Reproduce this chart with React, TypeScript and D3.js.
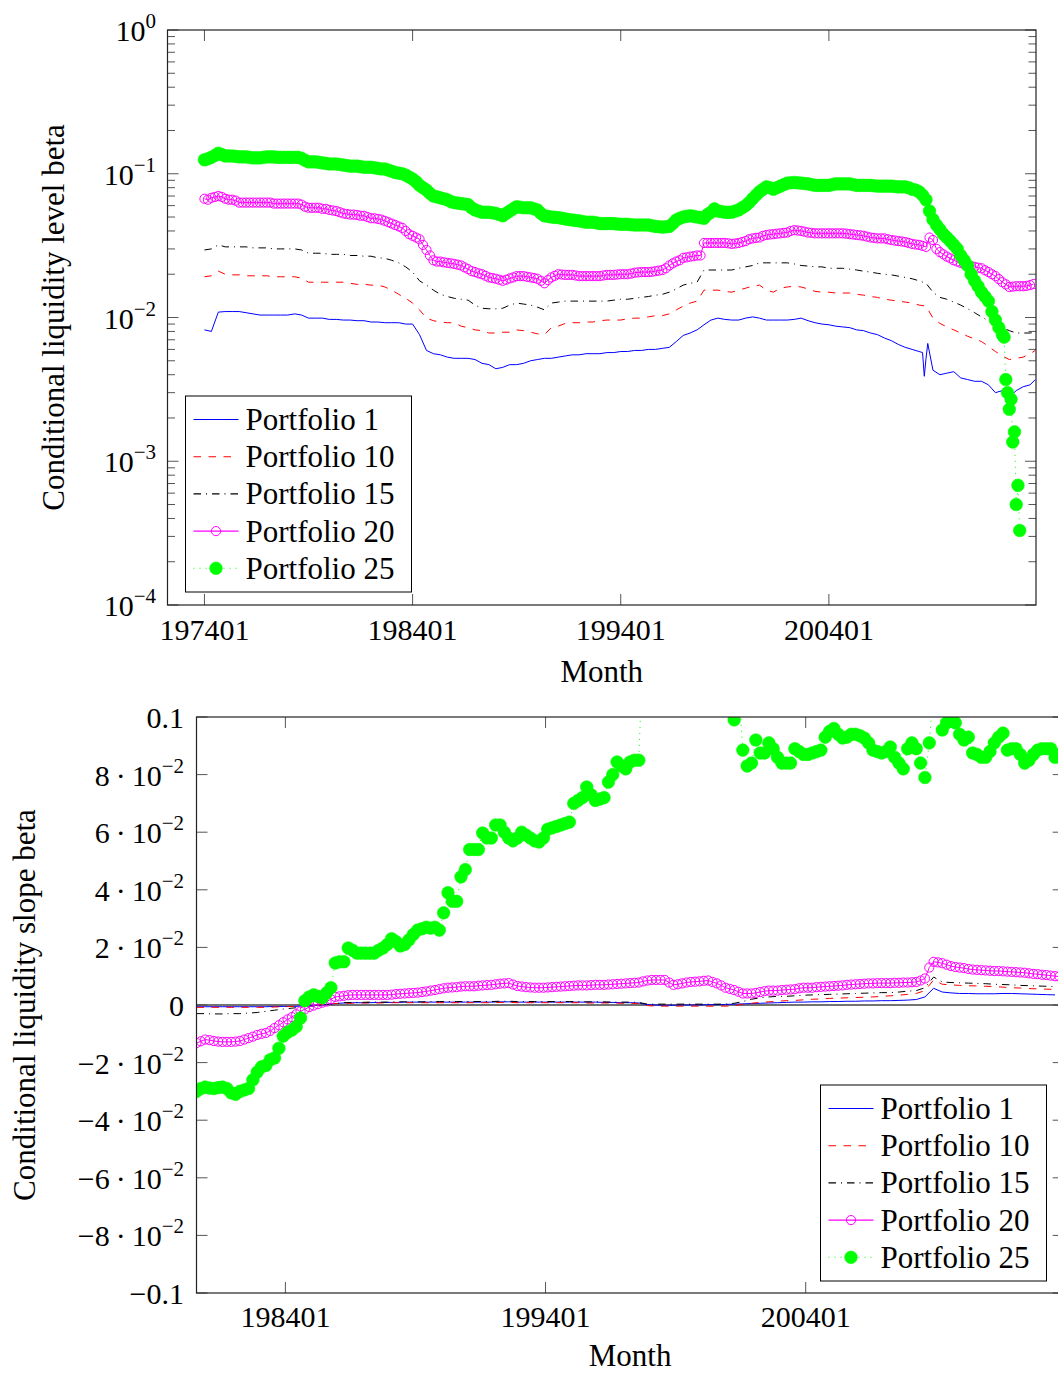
import React from 'react';
import * as d3 from 'd3';

const FONT = '"Liberation Serif", "Times New Roman", Times, serif';

// ---------- DATA ----------
// Month index: 0 = 197401.
// Line series (Portfolio 1/10/15), top panel: every 4 months (0,4,...,476) plus final month 479.
const p1Top = [
  0.0082, 0.0080, 0.0109, 0.0110, 0.0110, 0.0110, 0.0108, 0.0106, 0.0104, 0.0104,
  0.0104, 0.0104, 0.0104, 0.0106, 0.0104, 0.0099, 0.0099, 0.0099, 0.0097, 0.0097,
  0.0096, 0.0096, 0.0095, 0.0095, 0.0093, 0.0093, 0.0092, 0.0092, 0.0092, 0.0090,
  0.0090, 0.0076, 0.0059, 0.0056, 0.0055, 0.0053, 0.0052, 0.0052, 0.0052, 0.0051,
  0.0048, 0.0047, 0.0044, 0.0045, 0.0047, 0.0047, 0.0048, 0.0050, 0.0051, 0.0052,
  0.0052, 0.0053, 0.0054, 0.0055, 0.0055, 0.0056, 0.0056, 0.0056, 0.0057, 0.0057,
  0.0058, 0.0058, 0.0059, 0.0059, 0.0060, 0.0060, 0.0061, 0.0062, 0.0068, 0.0075,
  0.0078, 0.0082, 0.0089, 0.0096, 0.0099, 0.0097, 0.0096, 0.0096, 0.0099, 0.0101,
  0.0099, 0.0096, 0.0096, 0.0096, 0.0096, 0.0097, 0.0099, 0.0095, 0.0092, 0.0090,
  0.0089, 0.0087, 0.0086, 0.0085, 0.0082, 0.0081, 0.0078, 0.0076, 0.0072, 0.0069,
  0.0065, 0.0062, 0.0060, 0.0058, 0.0052, 0.0043, 0.0040, 0.0041, 0.0042, 0.0038,
  0.0037, 0.0036, 0.0036, 0.0034, 0.0030, 0.0031, 0.0028, 0.0031, 0.0033, 0.0034,
  0.0037,
];
const p1TopSpike: [number, number][] = [[414, 0.0057], [415, 0.0039], [417, 0.0066]];

const p10Top = [
  0.0192, 0.0195, 0.0210, 0.0200, 0.0198, 0.0198, 0.0195, 0.0195, 0.0195, 0.0195,
  0.0192, 0.0192, 0.0192, 0.0192, 0.0188, 0.0176, 0.0176, 0.0176, 0.0176, 0.0176,
  0.0176, 0.0173, 0.0170, 0.0170, 0.0168, 0.0168, 0.0163, 0.0155, 0.0145, 0.0136,
  0.0126, 0.0113, 0.0099, 0.0095, 0.0093, 0.0092, 0.0092, 0.0087, 0.0085, 0.0082,
  0.0081, 0.0078, 0.0078, 0.0079, 0.0079, 0.0082, 0.0081, 0.0079, 0.0077, 0.0076,
  0.0085, 0.0087, 0.0091, 0.0092, 0.0092, 0.0093, 0.0093, 0.0095, 0.0096, 0.0096,
  0.0096, 0.0098, 0.0099, 0.0099, 0.0101, 0.0103, 0.0103, 0.0106, 0.0113, 0.0120,
  0.0126, 0.0130, 0.0155, 0.0155, 0.0155, 0.0152, 0.0150, 0.0155, 0.0160, 0.0165,
  0.0168, 0.0155, 0.0150, 0.0160, 0.0163, 0.0165, 0.0163, 0.0158, 0.0152, 0.0150,
  0.0150, 0.0148, 0.0148, 0.0148, 0.0145, 0.0143, 0.0140, 0.0138, 0.0134, 0.0132,
  0.0130, 0.0128, 0.0126, 0.0122, 0.0120, 0.0099, 0.0091, 0.0086, 0.0082, 0.0078,
  0.0074, 0.0071, 0.0068, 0.0063, 0.0058, 0.0054, 0.0051, 0.0052, 0.0053, 0.0056,
  0.0059,
];

const p15Top = [
  0.0295, 0.0300, 0.0320, 0.0310, 0.0310, 0.0310, 0.0310, 0.0305, 0.0305, 0.0305,
  0.0300, 0.0300, 0.0300, 0.0300, 0.0295, 0.0280, 0.0280, 0.0280, 0.0275, 0.0275,
  0.0275, 0.0270, 0.0270, 0.0267, 0.0267, 0.0260, 0.0258, 0.0250, 0.0240, 0.0225,
  0.0207, 0.0180, 0.0168, 0.0155, 0.0145, 0.0140, 0.0136, 0.0134, 0.0132, 0.0122,
  0.0116, 0.0115, 0.0115, 0.0116, 0.0122, 0.0126, 0.0124, 0.0122, 0.0118, 0.0113,
  0.0126, 0.0128, 0.0130, 0.0130, 0.0130, 0.0130, 0.0130, 0.0130, 0.0130, 0.0132,
  0.0134, 0.0134, 0.0136, 0.0138, 0.0140, 0.0143, 0.0145, 0.0150, 0.0158, 0.0168,
  0.0173, 0.0176, 0.0214, 0.0214, 0.0214, 0.0214, 0.0214, 0.0220, 0.0225, 0.0230,
  0.0240, 0.0240, 0.0240, 0.0240, 0.0240, 0.0236, 0.0230, 0.0228, 0.0225, 0.0225,
  0.0220, 0.0220, 0.0220, 0.0217, 0.0214, 0.0210, 0.0207, 0.0203, 0.0200, 0.0198,
  0.0194, 0.0190, 0.0186, 0.0180, 0.0173, 0.0150, 0.0138, 0.0134, 0.0128, 0.0122,
  0.0115, 0.0108, 0.0101, 0.0095, 0.0089, 0.0085, 0.0081, 0.0078, 0.0078, 0.0078,
  0.0079,
];

// Marker series, top panel: every 2 months (0,2,...,478)
const p20Top = [
  0.067, 0.066, 0.068, 0.069, 0.070, 0.069, 0.067, 0.066, 0.066, 0.065,
  0.063, 0.063, 0.063, 0.063, 0.063, 0.063, 0.063, 0.063, 0.063, 0.063,
  0.062, 0.062, 0.062, 0.062, 0.062, 0.062, 0.062, 0.062, 0.061, 0.059,
  0.058, 0.058, 0.058, 0.058, 0.057, 0.057, 0.056, 0.0555, 0.055, 0.054,
  0.053, 0.0525, 0.052, 0.052, 0.0517, 0.051, 0.051, 0.050, 0.049, 0.049,
  0.0485, 0.048, 0.047, 0.046, 0.045, 0.044, 0.043, 0.042, 0.040, 0.038,
  0.037, 0.036, 0.035, 0.032, 0.0295, 0.027, 0.025, 0.0245, 0.0245, 0.0242,
  0.024, 0.0238, 0.0236, 0.0233, 0.023, 0.0223, 0.0217, 0.021, 0.0207, 0.0203,
  0.020, 0.0195, 0.019, 0.0188, 0.0186, 0.0183, 0.018, 0.0183, 0.0187, 0.019,
  0.0194, 0.0194, 0.0194, 0.0192, 0.019, 0.0188, 0.0186, 0.018, 0.0173, 0.0182,
  0.019, 0.0195, 0.020, 0.0199, 0.0198, 0.0198, 0.0198, 0.0196, 0.0194, 0.0194,
  0.0194, 0.0194, 0.0194, 0.0194, 0.0194, 0.0196, 0.0198, 0.0198, 0.0198, 0.0199,
  0.020, 0.020, 0.020, 0.0202, 0.0205, 0.0206, 0.0207, 0.0207, 0.0207, 0.0208,
  0.021, 0.0212, 0.0214, 0.022, 0.023, 0.0238, 0.0245, 0.025, 0.026, 0.0262,
  0.0265, 0.0267, 0.027, 0.027, 0.033, 0.033, 0.033, 0.033, 0.033, 0.033,
  0.033, 0.0328, 0.0325, 0.0327, 0.033, 0.0335, 0.034, 0.035, 0.0355, 0.0358,
  0.036, 0.037, 0.0375, 0.0378, 0.038, 0.0383, 0.0385, 0.0388, 0.039, 0.040,
  0.0405, 0.0403, 0.040, 0.0395, 0.039, 0.0388, 0.0385, 0.0385, 0.0385, 0.0385,
  0.0385, 0.0385, 0.0385, 0.0385, 0.0385, 0.0383, 0.038, 0.0378, 0.0375, 0.0373,
  0.037, 0.0365, 0.036, 0.0358, 0.0355, 0.0355, 0.0355, 0.035, 0.0346, 0.0343,
  0.034, 0.0338, 0.0335, 0.033, 0.0325, 0.0322, 0.032, 0.0315, 0.031, 0.036,
  0.0346, 0.030, 0.0285, 0.0275, 0.0265, 0.0258, 0.025, 0.0245, 0.024, 0.0235,
  0.023, 0.0228, 0.0225, 0.0222, 0.022, 0.0213, 0.0207, 0.020, 0.0194, 0.0185,
  0.0176, 0.017, 0.0163, 0.0164, 0.0165, 0.0165, 0.0165, 0.0166, 0.0168, 0.0171,
];

// Portfolio 25 top: every 2 months 0..460, then monthly 461..470
const p25Top = [
  0.125, 0.127, 0.130, 0.134, 0.139, 0.136, 0.133, 0.133, 0.133, 0.132,
  0.131, 0.131, 0.131, 0.130, 0.129, 0.129, 0.129, 0.130, 0.131, 0.131,
  0.131, 0.130, 0.130, 0.130, 0.130, 0.130, 0.130, 0.130, 0.128, 0.124,
  0.121, 0.121, 0.121, 0.120, 0.119, 0.118, 0.117, 0.117, 0.117, 0.116,
  0.115, 0.114, 0.113, 0.113, 0.113, 0.112, 0.111, 0.111, 0.111, 0.110,
  0.109, 0.108, 0.108, 0.106, 0.104, 0.102, 0.101, 0.100, 0.098, 0.095,
  0.092, 0.088, 0.083, 0.080, 0.077, 0.073, 0.070, 0.069, 0.068, 0.067,
  0.066, 0.064, 0.063, 0.0625, 0.062, 0.0615, 0.061, 0.058, 0.056, 0.055,
  0.054, 0.054, 0.054, 0.0535, 0.053, 0.052, 0.051, 0.053, 0.055, 0.057,
  0.059, 0.0585, 0.058, 0.058, 0.058, 0.057, 0.056, 0.053, 0.051, 0.0505,
  0.050, 0.0497, 0.0495, 0.049, 0.0485, 0.048, 0.0477, 0.0473, 0.047, 0.0465,
  0.046, 0.046, 0.046, 0.0455, 0.045, 0.045, 0.045, 0.045, 0.045, 0.0447,
  0.0445, 0.0445, 0.0445, 0.0442, 0.044, 0.044, 0.044, 0.044, 0.044, 0.0435,
  0.043, 0.0428, 0.0425, 0.0428, 0.043, 0.045, 0.0477, 0.049, 0.050, 0.0505,
  0.051, 0.0505, 0.050, 0.0495, 0.049, 0.052, 0.054, 0.057, 0.055, 0.0545,
  0.054, 0.054, 0.054, 0.055, 0.056, 0.058, 0.060, 0.063, 0.067, 0.071,
  0.075, 0.078, 0.081, 0.080, 0.078, 0.080, 0.082, 0.084, 0.086, 0.0865,
  0.087, 0.0865, 0.086, 0.0855, 0.085, 0.084, 0.083, 0.083, 0.083, 0.083,
  0.083, 0.084, 0.085, 0.085, 0.085, 0.085, 0.085, 0.084, 0.083, 0.083,
  0.083, 0.083, 0.083, 0.0825, 0.082, 0.082, 0.082, 0.082, 0.082, 0.0815,
  0.081, 0.081, 0.081, 0.080, 0.078, 0.077, 0.075, 0.071, 0.066, 0.055,
  0.048, 0.044, 0.041, 0.038, 0.036, 0.034, 0.032, 0.030, 0.027, 0.025,
  0.023, 0.020, 0.018, 0.0165, 0.015, 0.014, 0.013, 0.011, 0.0096, 0.0085,
  0.0076,
];
const p25TopTail = [0.0073, 0.0037, 0.0030, 0.0023, 0.0027, 0.00136, 0.0016, 0.0005, 0.00068, 0.00033];

// Bottom panel, line series: months 79, 83, ..., 475
const p1Bot = [
  -0.0006, -0.0006, -0.0006, -0.0006, -0.0006, -0.0006, -0.0006, -0.0006, -0.0006, -0.0005,
  -0.0005, -0.0005, -0.0004, -0.0003, -0.0001, 0.0002, 0.0005, 0.0007, 0.0008, 0.0008,
  0.0008, 0.0009, 0.0009, 0.0009, 0.0010, 0.0010, 0.0010, 0.0010, 0.0010, 0.0010,
  0.0010, 0.0010, 0.0010, 0.0010, 0.0010, 0.0011, 0.0011, 0.0010, 0.0010, 0.0010,
  0.0010, 0.0010, 0.0010, 0.0010, 0.0010, 0.0010, 0.0010, 0.0009, 0.0009, 0.0008,
  0.0008, 0.0007, 0.0001, 0.0000, -0.0001, -0.0001, 0.0000, 0.0000, 0.0000, 0.0001,
  0.0001, 0.0002, 0.0003, 0.0004, 0.0005, 0.0006, 0.0007, 0.0008, 0.0009, 0.0010,
  0.0010, 0.0011, 0.0011, 0.0012, 0.0012, 0.0013, 0.0013, 0.0014, 0.0014, 0.0015,
  0.0015, 0.0016, 0.0017, 0.0019, 0.0028, 0.0058, 0.0045, 0.0042, 0.0040, 0.0040,
  0.0039, 0.0039, 0.0039, 0.0040, 0.0040, 0.0039, 0.0038, 0.0037, 0.0036, 0.0035,
];
const p10Bot = [
  -0.0008, -0.0008, -0.0008, -0.0008, -0.0008, -0.0008, -0.0008, -0.0008, -0.0008, -0.0007,
  -0.0006, -0.0005, -0.0004, -0.0002, 0.0000, 0.0003, 0.0005, 0.0006, 0.0006, 0.0007,
  0.0007, 0.0007, 0.0008, 0.0008, 0.0008, 0.0008, 0.0008, 0.0008, 0.0008, 0.0008,
  0.0008, 0.0008, 0.0008, 0.0008, 0.0008, 0.0009, 0.0009, 0.0008, 0.0008, 0.0008,
  0.0008, 0.0008, 0.0008, 0.0008, 0.0008, 0.0007, 0.0007, 0.0007, 0.0007, 0.0006,
  0.0006, 0.0005, -0.0002, -0.0004, -0.0004, -0.0004, -0.0004, -0.0004, -0.0004, -0.0004,
  -0.0004, -0.0004, -0.0002, 0.0002, 0.0006, 0.0009, 0.0011, 0.0013, 0.0015, 0.0016,
  0.0018, 0.0020, 0.0021, 0.0023, 0.0024, 0.0025, 0.0026, 0.0027, 0.0028, 0.0030,
  0.0032, 0.0034, 0.0037, 0.0040, 0.0050, 0.0087, 0.0072, 0.0070, 0.0068, 0.0067,
  0.0066, 0.0065, 0.0064, 0.0062, 0.0060, 0.0059, 0.0057, 0.0056, 0.0055, 0.0054,
];
const p15Bot = [
  -0.0030, -0.0030, -0.0031, -0.0031, -0.0030, -0.0030, -0.0028, -0.0026, -0.0022, -0.0018,
  -0.0014, -0.0011, -0.0008, -0.0005, -0.0002, 0.0002, 0.0005, 0.0008, 0.0009, 0.0009,
  0.0010, 0.0010, 0.0010, 0.0011, 0.0011, 0.0011, 0.0011, 0.0012, 0.0012, 0.0012,
  0.0012, 0.0012, 0.0012, 0.0012, 0.0012, 0.0013, 0.0013, 0.0012, 0.0012, 0.0012,
  0.0012, 0.0012, 0.0012, 0.0012, 0.0012, 0.0011, 0.0011, 0.0011, 0.0010, 0.0010,
  0.0010, 0.0009, 0.0003, 0.0003, 0.0003, 0.0003, 0.0003, 0.0003, 0.0003, 0.0003,
  0.0003, 0.0003, 0.0006, 0.0012, 0.0020, 0.0025, 0.0028, 0.0030, 0.0030, 0.0032,
  0.0034, 0.0035, 0.0036, 0.0037, 0.0038, 0.0039, 0.0040, 0.0041, 0.0042, 0.0043,
  0.0043, 0.0045, 0.0048, 0.0050, 0.0060, 0.0097, 0.0080, 0.0078, 0.0077, 0.0076,
  0.0075, 0.0074, 0.0072, 0.0071, 0.0070, 0.0068, 0.0067, 0.0066, 0.0065, 0.0064,
];
// Bottom panel, marker series: months 79, 81, ..., 477
const p20Bot = [
  -0.0132, -0.0126, -0.0120, -0.0122, -0.0125, -0.0127, -0.0128, -0.0128, -0.0128, -0.0127,
  -0.0125, -0.0120, -0.0115, -0.0110, -0.0104, -0.0100, -0.0097, -0.0090, -0.0080, -0.0070,
  -0.0060, -0.0050, -0.0042, -0.0032, -0.0022, -0.0015, -0.0007, -0.0002, 0.0003, 0.0008,
  0.0012, 0.0020, 0.0028, 0.0030, 0.0032, 0.0034, 0.0035, 0.0035, 0.0035, 0.0035,
  0.0035, 0.0035, 0.0035, 0.0035, 0.0035, 0.0036, 0.0038, 0.0039, 0.0040, 0.0041,
  0.0042, 0.0043, 0.0045, 0.0047, 0.0050, 0.0052, 0.0055, 0.0058, 0.0060, 0.0061,
  0.0062, 0.0064, 0.0065, 0.0065, 0.0065, 0.0067, 0.0068, 0.0069, 0.0070, 0.0072,
  0.0074, 0.0075, 0.0076, 0.0071, 0.0066, 0.0064, 0.0062, 0.0061, 0.0060, 0.0060,
  0.0060, 0.0061, 0.0062, 0.0063, 0.0064, 0.0065, 0.0066, 0.0067, 0.0068, 0.0068,
  0.0068, 0.0069, 0.0070, 0.0070, 0.0070, 0.0071, 0.0072, 0.0073, 0.0074, 0.0075,
  0.0076, 0.0077, 0.0078, 0.0082, 0.0085, 0.0087, 0.0087, 0.0087, 0.0087, 0.0078,
  0.0070, 0.0072, 0.0075, 0.0078, 0.0080, 0.0081, 0.0082, 0.0084, 0.0085, 0.0080,
  0.0075, 0.0068, 0.0060, 0.0056, 0.0052, 0.0046, 0.0040, 0.0040, 0.0040, 0.0042,
  0.0045, 0.0048, 0.0050, 0.0050, 0.0050, 0.0052, 0.0053, 0.0054, 0.0055, 0.0058,
  0.0060, 0.0060, 0.0060, 0.0062, 0.0063, 0.0064, 0.0065, 0.0066, 0.0067, 0.0068,
  0.0070, 0.0071, 0.0072, 0.0073, 0.0074, 0.0075, 0.0075, 0.0076, 0.0076, 0.0076,
  0.0076, 0.0077, 0.0077, 0.0078, 0.0078, 0.0079, 0.0080, 0.0085, 0.0092, 0.0130,
  0.0150, 0.0148, 0.0145, 0.0140, 0.0135, 0.0132, 0.0130, 0.0128, 0.0125, 0.0123,
  0.0122, 0.0121, 0.0120, 0.0119, 0.0118, 0.0118, 0.0117, 0.0116, 0.0115, 0.0114,
  0.0113, 0.0112, 0.0110, 0.0108, 0.0107, 0.0105, 0.0104, 0.0102, 0.0100, 0.0099,
];
const p25Bot = [
  -0.0300, -0.0290, -0.0285, -0.0288, -0.0290, -0.0287, -0.0285, -0.0290, -0.0305, -0.0310,
  -0.0300, -0.0295, -0.0290, -0.0260, -0.0233, -0.0215, -0.0210, -0.0190, -0.0184, -0.0150,
  -0.0108, -0.0095, -0.0087, -0.0075, -0.0045, 0.0015, 0.0028, 0.0035, 0.0030, 0.0025,
  0.0042, 0.0060, 0.0146, 0.0150, 0.0150, 0.0198, 0.0190, 0.0180, 0.0180, 0.0180,
  0.0180, 0.0180, 0.0190, 0.0198, 0.0210, 0.0230, 0.0220, 0.0205, 0.0210, 0.0226,
  0.0245, 0.0260, 0.0265, 0.0270, 0.0267, 0.0270, 0.0260, 0.0320, 0.0390, 0.0360,
  0.0360, 0.0445, 0.0470, 0.0540, 0.0540, 0.0540, 0.0597, 0.0580, 0.0580, 0.0625,
  0.0625, 0.0600, 0.0580, 0.0570, 0.0580, 0.0600, 0.0590, 0.0580, 0.0570, 0.0566,
  0.0580, 0.0610, 0.0615, 0.0620, 0.0625, 0.0630, 0.0635, 0.0700, 0.0710, 0.0720,
  0.0757, 0.0730, 0.0710, 0.0715, 0.0720, 0.0774, 0.0800, 0.0844, 0.0830, 0.0820,
  0.0844, 0.0850, 0.0850, 0.125, 0.140, 0.150, 0.155, 0.160, 0.160, 0.160,
  0.160, 0.160, 0.155, 0.150, 0.150, 0.140, 0.140, 0.135, 0.130, 0.125,
  0.120, 0.115, 0.110, 0.105, 0.099, 0.112, 0.0885, 0.083, 0.084, 0.092,
  0.0875, 0.0875, 0.091, 0.089, 0.086, 0.084, 0.084, 0.084, 0.089, 0.088,
  0.087, 0.087, 0.0875, 0.088, 0.0885, 0.093, 0.095, 0.096, 0.094, 0.0927,
  0.093, 0.094, 0.094, 0.0935, 0.0927, 0.091, 0.0885, 0.088, 0.0875, 0.088,
  0.0896, 0.086, 0.084, 0.082, 0.089, 0.091, 0.089, 0.084, 0.079, 0.091,
  0.110, 0.105, 0.0955, 0.098, 0.099, 0.098, 0.094, 0.092, 0.093, 0.0875,
  0.087, 0.086, 0.086, 0.088, 0.091, 0.093, 0.0944, 0.0885, 0.089, 0.089,
  0.087, 0.084, 0.085, 0.087, 0.0885, 0.089, 0.089, 0.089, 0.086, 0.087,
];

const seriesNames = ['Portfolio 1', 'Portfolio 10', 'Portfolio 15', 'Portfolio 20', 'Portfolio 25'];
const topXTicks = [0, 120, 240, 360];
const botXTicks = [120, 240, 360];
const topYExps = [-4, -3, -2, -1, 0];
const botYTicks = [-5, -4, -3, -2, -1, 0, 1, 2, 3, 4, 5].map((k) => k * 0.02);

// ---------- STYLES ----------
const STYLES = [
  { color: '#0000ff', dash: '', marker: '' },
  { color: '#ff0000', dash: '7.5 7.5', marker: '' },
  { color: '#000000', dash: '7.5 5 1 5', marker: '' },
  { color: '#ff00ff', dash: '', marker: 'o' },
  { color: '#00ff00', dash: '1 5', marker: '*' },
];

interface Pt { m: number; v: number }

const monthLabel = (m: number) => `${1974 + Math.floor(m / 12)}${String((m % 12) + 1).padStart(2, '0')}`;
const pts = (vals: number[], monthOf: (k: number) => number): Pt[] => vals.map((v, k) => ({ m: monthOf(k), v }));

const topData: Pt[][] = [
  [...pts(p1Top, (k) => Math.min(k * 4, 479)), ...p1TopSpike.map(([m, v]) => ({ m, v }))].sort((a, b) => a.m - b.m),
  pts(p10Top, (k) => Math.min(k * 4, 479)),
  pts(p15Top, (k) => Math.min(k * 4, 479)),
  pts(p20Top, (k) => k * 2),
  [...pts(p25Top, (k) => k * 2), ...p25TopTail.map((v, k) => ({ m: 461 + k, v }))],
];
const botData: Pt[][] = [
  pts(p1Bot, (k) => 79 + k * 4),
  pts(p10Bot, (k) => 79 + k * 4),
  pts(p15Bot, (k) => 79 + k * 4),
  pts(p20Bot, (k) => 79 + k * 2),
  pts(p25Bot, (k) => 79 + k * 2),
];

// ---------- LAYOUT ----------
const TOP = { x0: 167.5, x1: 1036, y0: 30, y1: 605 };
const BOT = { x0: 196.5, x1: 1063.7, y0: 717, y1: 1293 };
const topX = d3.scaleLinear().domain([-21.3, 479.4]).range([TOP.x0, TOP.x1]);
const topY = d3.scaleLog().domain([1e-4, 1]).range([TOP.y1, TOP.y0]);
const botX = d3.scaleLinear().domain([79, 479]).range([BOT.x0, BOT.x1]);
const botY = d3.scaleLinear().domain([-0.1, 0.1]).range([BOT.y1, BOT.y0]);

const TICK = 11;
const MINOR = 7.5;
const TICK_COLOR = '#555';

function Marker({ kind, cx, cy, color }: { kind: string; cx: number; cy: number; color: string }) {
  if (kind === 'o') return <circle cx={cx} cy={cy} r={4.6} fill="none" stroke={color} strokeWidth={1} />;
  if (kind === '*') return <circle cx={cx} cy={cy} r={6.3} fill={color} stroke={color} strokeWidth={0.6} />;
  return null;
}

function Series({ data, x, y, idx, clip }: { data: Pt[]; x: any; y: any; idx: number; clip: string }) {
  const s = STYLES[idx];
  const line = d3.line<Pt>().x((d) => x(d.m)).y((d) => y(d.v));
  return (
    <g clipPath={`url(#${clip})`}>
      <path d={line(data) || ''} fill="none" stroke={s.color} strokeWidth={1} strokeDasharray={s.dash || undefined} />
      {s.marker && data.map((d, i) => <Marker key={i} kind={s.marker} cx={x(d.m)} cy={y(d.v)} color={s.color} />)}
    </g>
  );
}

function Legend({ bx, by }: { bx: number; by: number }) {
  const w = 226, h = 196;
  return (
    <g>
      <rect x={bx} y={by} width={w} height={h} fill="#fff" stroke="#000" strokeWidth={1} />
      {seriesNames.map((n, i) => {
        const s = STYLES[i];
        const ry = by + 23.5 + i * 37.2;
        const sx0 = bx + 8, sx1 = bx + 53;
        return (
          <g key={n}>
            <line x1={sx0} x2={sx1} y1={ry} y2={ry} stroke={s.color} strokeWidth={1.1} strokeDasharray={s.dash || undefined} />
            {s.marker && <Marker kind={s.marker} cx={(sx0 + sx1) / 2} cy={ry} color={s.color} />}
            <text x={bx + 60} y={ry + 10.5} fontSize={31}>{n}</text>
          </g>
        );
      })}
    </g>
  );
}

function Frame({ b }: { b: { x0: number; x1: number; y0: number; y1: number } }) {
  return <rect x={b.x0} y={b.y0} width={b.x1 - b.x0} height={b.y1 - b.y0} fill="none" stroke="#222" strokeWidth={1.2} />;
}

export default function App() {
  const minorTop: number[] = [];
  for (let e = -4; e < 0; e++) for (let k = 2; k <= 9; k++) minorTop.push(k * Math.pow(10, e));

  const botLabel = (v: number) => {
    const k = Math.round(v / 0.02);
    if (k === 0) return <tspan>0</tspan>;
    const sign = k < 0 ? '\u2212' : '';
    if (Math.abs(k) === 5) return <tspan>{sign}0.1</tspan>;
    return (
      <>
        {sign}{Math.abs(k) * 2}{'\u2009\u00B7\u2009'}10<tspan dy={-13} fontSize={21}>{'\u22122'}</tspan>
      </>
    );
  };

  return (
    <svg width={1058} height={1374} style={{ position: 'absolute', left: 0, top: 0, background: '#fff' }}
      fontFamily={FONT} fill="#000">
      <defs>
        <clipPath id="clipTop"><rect x={TOP.x0} y={TOP.y0} width={TOP.x1 - TOP.x0} height={TOP.y1 - TOP.y0} /></clipPath>
        <clipPath id="clipBot"><rect x={BOT.x0} y={BOT.y0} width={BOT.x1 - BOT.x0} height={BOT.y1 - BOT.y0} /></clipPath>
      </defs>
      <rect x={0} y={0} width={1058} height={1374} fill="#fff" />

      {/* ---------- TOP PANEL ---------- */}
      <g stroke={TICK_COLOR} strokeWidth={1}>
        {topXTicks.map((m) => (
          <g key={m}>
            <line x1={topX(m)} x2={topX(m)} y1={TOP.y1} y2={TOP.y1 - TICK} />
            <line x1={topX(m)} x2={topX(m)} y1={TOP.y0} y2={TOP.y0 + TICK} />
          </g>
        ))}
        {topYExps.map((e) => (
          <g key={e}>
            <line x1={TOP.x0} x2={TOP.x0 + TICK} y1={topY(Math.pow(10, e))} y2={topY(Math.pow(10, e))} />
            <line x1={TOP.x1} x2={TOP.x1 - TICK} y1={topY(Math.pow(10, e))} y2={topY(Math.pow(10, e))} />
          </g>
        ))}
        {minorTop.map((v) => (
          <g key={v}>
            <line x1={TOP.x0} x2={TOP.x0 + MINOR} y1={topY(v)} y2={topY(v)} />
            <line x1={TOP.x1} x2={TOP.x1 - MINOR} y1={topY(v)} y2={topY(v)} />
          </g>
        ))}
      </g>
      {topData.map((d, i) => <Series key={i} data={d} x={topX} y={topY} idx={i} clip="clipTop" />)}
      <Frame b={TOP} />
      {topYExps.map((e) => (
        <text key={e} x={156} y={topY(Math.pow(10, e)) + 11} textAnchor="end" fontSize={30}>
          10<tspan dy={-13} fontSize={21}>{e < 0 ? `\u2212${-e}` : `${e}`}</tspan>
        </text>
      ))}
      {topXTicks.map((m) => (
        <text key={m} x={topX(m)} y={640} textAnchor="middle" fontSize={30}>{monthLabel(m)}</text>
      ))}
      <text x={(TOP.x0 + TOP.x1) / 2} y={682} textAnchor="middle" fontSize={31}>Month</text>
      <text transform={`translate(64,${(TOP.y0 + TOP.y1) / 2}) rotate(-90)`} textAnchor="middle" fontSize={31}>
        Conditional liquidity level beta
      </text>
      <Legend bx={185.5} by={396} />

      {/* ---------- BOTTOM PANEL ---------- */}
      <g stroke={TICK_COLOR} strokeWidth={1}>
        {botXTicks.map((m) => (
          <g key={m}>
            <line x1={botX(m)} x2={botX(m)} y1={BOT.y1} y2={BOT.y1 - TICK} />
            <line x1={botX(m)} x2={botX(m)} y1={BOT.y0} y2={BOT.y0 + TICK} />
          </g>
        ))}
        {botYTicks.map((v) => (
          <g key={v}>
            <line x1={BOT.x0} x2={BOT.x0 + TICK} y1={botY(v)} y2={botY(v)} />
            <line x1={BOT.x1} x2={BOT.x1 - TICK} y1={botY(v)} y2={botY(v)} />
          </g>
        ))}
      </g>
      <line x1={BOT.x0} x2={BOT.x1} y1={botY(0)} y2={botY(0)} stroke="#444" strokeWidth={1.4} />
      {botData.map((d, i) => <Series key={i} data={d} x={botX} y={botY} idx={i} clip="clipBot" />)}
      <Frame b={BOT} />
      {botYTicks.map((v) => (
        <text key={v} x={184} y={botY(v) + 11} textAnchor="end" fontSize={30}>{botLabel(v)}</text>
      ))}
      {botXTicks.map((m) => (
        <text key={m} x={botX(m)} y={1327} textAnchor="middle" fontSize={30}>{monthLabel(m)}</text>
      ))}
      <text x={(BOT.x0 + BOT.x1) / 2} y={1366} textAnchor="middle" fontSize={31}>Month</text>
      <text transform={`translate(35,${(BOT.y0 + BOT.y1) / 2}) rotate(-90)`} textAnchor="middle" fontSize={31}>
        Conditional liquidity slope beta
      </text>
      <Legend bx={820.5} by={1085} />
    </svg>
  );
}
